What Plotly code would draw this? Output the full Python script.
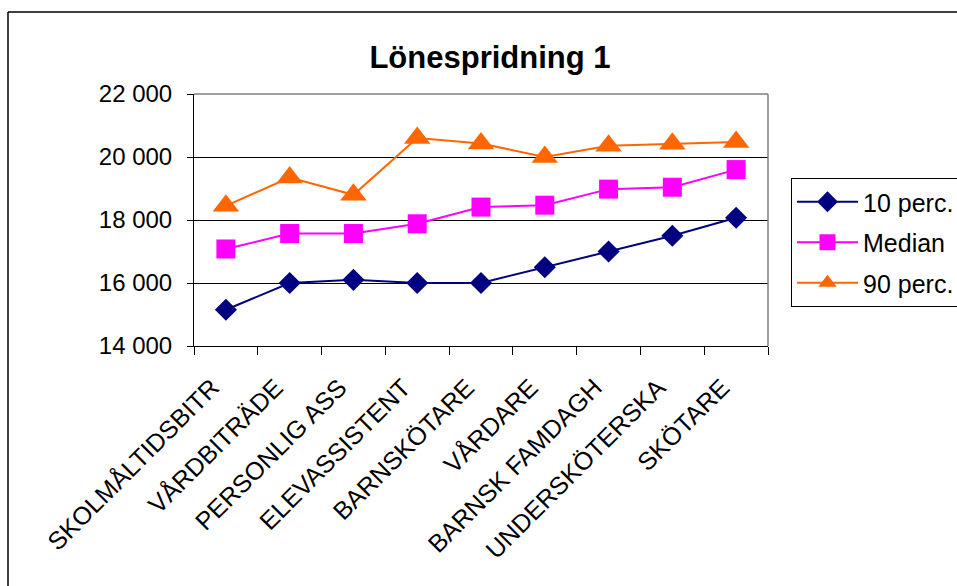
import plotly.graph_objects as go

# Yrkesgrupper och lönepercentiler (kr/mån)
categories = [
    "SKOLMÅLTIDSBITR", "VÅRDBITRÄDE", "PERSONLIG ASS", "ELEVASSISTENT",
    "BARNSKÖTARE", "VÅRDARE", "BARNSK FAMDAGH", "UNDERSKÖTERSKA", "SKÖTARE",
]
p10 = [15150, 16000, 16100, 16000, 16000, 16500, 17000, 17500, 18070]
median = [17080, 17570, 17570, 17880, 18410, 18470, 18980, 19040, 19600]
p90 = [18450, 19350, 18800, 20600, 20430, 20000, 20360, 20420, 20480]

y_ticks = [14000, 16000, 18000, 20000, 22000]

FONT = "Liberation Sans, Arial, sans-serif"

W, H = 957, 586
ML, MT, MR, MB = 194, 94, 189, 240
PW, PH = W - ML - MR, H - MT - MB

series = [
    ("10 perc.", p10, "#000080", "diamond", 17),
    ("Median", median, "#FF00FF", "square", 19),
    ("90 perc.", p90, "#FF6600", "triangle-up", 23),
]

fig = go.Figure()
for i, (name, vals, color, symbol, size) in enumerate(series):
    fig.add_trace(go.Scatter(
        x=categories, y=vals, name=name, mode="lines+markers",
        line=dict(color=color, width=2),
        marker=dict(symbol=symbol, size=size, color=color,
                    line=dict(width=0)),
        legendgroup=f"g{i}",
        cliponaxis=False,
    ))

def px_x(px):
    return (px - ML) / PW

def px_y(py):
    return (H - MB - py) / PH

shapes = [
    # chart frame
    dict(type="line", xref="paper", yref="paper",
         x0=px_x(8), x1=px_x(W + 5), y0=px_y(12), y1=px_y(12),
         line=dict(color="#000000", width=1.5)),
    dict(type="line", xref="paper", yref="paper",
         x0=px_x(8), x1=px_x(8), y0=px_y(12), y1=px_y(H + 5),
         line=dict(color="#000000", width=1.5)),
    # plot-area top and right edges
    dict(type="line", xref="paper", yref="paper",
         x0=0, x1=1, y0=1, y1=1, line=dict(color="#808080", width=1.5)),
    dict(type="line", xref="paper", yref="paper",
         x0=1, x1=1, y0=0, y1=1, line=dict(color="#808080", width=1.5)),
]

fig.update_layout(
    width=W, height=H,
    margin=dict(l=ML, r=MR, t=MT, b=MB, pad=0, autoexpand=False),
    paper_bgcolor="white", plot_bgcolor="white",
    separators=", ",
    font=dict(family=FONT, color="#000000"),
    title=dict(text="<b>Lönespridning 1</b>", x=490 / W, xref="container",
               xanchor="center", y=1 - 57 / H, yref="container",
               yanchor="middle", font=dict(size=31, family=FONT)),
    xaxis=dict(
        type="category", tickangle=-45, tickson="boundaries",
        ticks="outside", ticklen=8, tickcolor="#000000", tickwidth=1,
        showline=True, linecolor="#000000", linewidth=1,
        showgrid=False, tickfont=dict(size=25, family=FONT),
        range=[-0.5, len(categories) - 0.5],
        ticklabelstandoff=16, ticklabelshift=-14,
    ),
    yaxis=dict(
        range=[14000, 22000], tickvals=y_ticks, tickformat=",d",
        ticks="outside", ticklen=6, tickcolor="#000000", tickwidth=1,
        showline=True, linecolor="#000000", linewidth=1,
        showgrid=True, gridcolor="#000000", gridwidth=1,
        zeroline=False, tickfont=dict(size=24, family=FONT),
        ticklabelstandoff=10,
    ),
    legend=dict(
        x=px_x(791), y=px_y(178), xanchor="left", yanchor="top",
        bordercolor="#000000", borderwidth=1, bgcolor="white",
        font=dict(size=25, family=FONT), tracegroupgap=5,
        itemwidth=61,
    ),
    shapes=shapes,
)

fig.write_html("out.html")
